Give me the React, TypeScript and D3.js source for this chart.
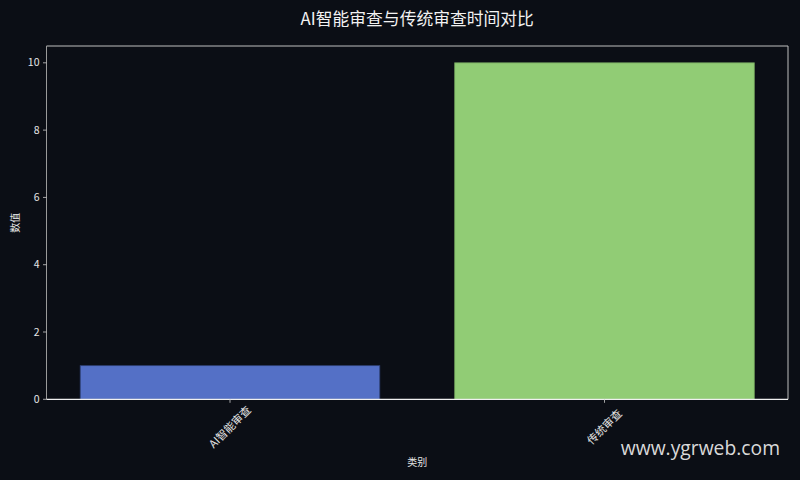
import React, { useEffect, useRef } from "react";
import * as d3 from "d3";

const categories = ["AI智能审查", "传统审查"];
const values = [1, 10];
const barColors = ["#5470c6", "#91cc75"];
const edgeColors = ["#2e3f73", "#6f9e5a"];
const yTicks = [0, 2, 4, 6, 8, 10];
const title = "AI智能审查与传统审查时间对比";
const xLabel = "类别";
const yLabel = "数值";
const watermark = "www.ygrweb.com";

const W = 800;
const H = 480;
const BG = "#0b0e15";
const M = { left: 46.5, right: 788, top: 46, bottom: 399.3 };
const FONT = "'Noto Sans CJK SC', 'Noto Sans', sans-serif";

export default function App() {
  const ref = useRef<SVGSVGElement>(null);

  useEffect(() => {
    const svg = d3.select(ref.current);
    svg.selectAll("*").remove();

    svg.append("rect").attr("width", W).attr("height", H).attr("fill", BG);

    const x = d3
      .scaleBand<string>()
      .domain(categories)
      .range([M.left, M.right])
      .paddingInner(0.2)
      .paddingOuter(0.09);
    const y = d3.scaleLinear().domain([0, 10.5]).range([M.bottom, M.top]);

    // bars
    svg
      .append("g")
      .selectAll("rect")
      .data(values)
      .join("rect")
      .attr("x", (_, i) => x(categories[i])!)
      .attr("y", (d) => y(d))
      .attr("width", x.bandwidth())
      .attr("height", (d) => y(0) - y(d))
      .attr("fill", (_, i) => barColors[i])
      .attr("stroke", (_, i) => edgeColors[i])
      .attr("stroke-width", 0.8);

    // spines
    const sp = svg.append("g");
    sp.append("line").attr("x1", M.left).attr("x2", M.right).attr("y1", M.top).attr("y2", M.top).attr("stroke", "#bfbfbf").attr("stroke-width", 1);
    sp.append("line").attr("x1", M.right).attr("x2", M.right).attr("y1", M.top).attr("y2", M.bottom).attr("stroke", "#bfbfbf").attr("stroke-width", 1);
    sp.append("line").attr("x1", M.left).attr("x2", M.left).attr("y1", M.top).attr("y2", M.bottom).attr("stroke", "#9a9a9a").attr("stroke-width", 1);
    sp.append("line").attr("x1", M.left).attr("x2", M.right).attr("y1", M.bottom).attr("y2", M.bottom).attr("stroke", "#f0f0f0").attr("stroke-width", 1.2);

    // y ticks
    const yg = svg.append("g");
    yTicks.forEach((t) => {
      yg.append("line")
        .attr("x1", M.left - 3.5)
        .attr("x2", M.left)
        .attr("y1", y(t))
        .attr("y2", y(t))
        .attr("stroke", "#cccccc")
        .attr("stroke-width", 0.8);
      yg.append("text")
        .attr("x", M.left - 7)
        .attr("y", y(t))
        .attr("dy", "0.35em")
        .attr("text-anchor", "end")
        .attr("fill", "#e6e6e6")
        .attr("font-family", FONT)
        .attr("font-size", 10.5)
        .text(String(t));
    });

    // x ticks
    const xg = svg.append("g");
    categories.forEach((c) => {
      const cx = x(c)! + x.bandwidth() / 2;
      xg.append("line")
        .attr("x1", cx)
        .attr("x2", cx)
        .attr("y1", M.bottom)
        .attr("y2", M.bottom + 3.5)
        .attr("stroke", "#cccccc")
        .attr("stroke-width", 0.8);
      xg.append("text")
        .attr("transform", `translate(${cx},${427}) rotate(-45)`)
        .attr("text-anchor", "middle")
        .attr("dy", "0.35em")
        .attr("fill", "#e6e6e6")
        .attr("font-family", FONT)
        .attr("font-size", 11)
        .text(c);
    });

    // axis labels
    svg.append("text")
      .attr("x", (M.left + M.right) / 2)
      .attr("y", 462)
      .attr("dy", "0.35em")
      .attr("text-anchor", "middle")
      .attr("fill", "#e6e6e6")
      .attr("font-family", FONT)
      .attr("font-size", 10)
      .text(xLabel);
    svg.append("text")
      .attr("transform", `translate(15,${(M.top + M.bottom) / 2}) rotate(-90)`)
      .attr("dy", "0.35em")
      .attr("text-anchor", "middle")
      .attr("fill", "#e6e6e6")
      .attr("font-family", FONT)
      .attr("font-size", 10)
      .text(yLabel);

    // title
    svg.append("text")
      .attr("x", (M.left + M.right) / 2)
      .attr("y", 19)
      .attr("dy", "0.35em")
      .attr("text-anchor", "middle")
      .attr("fill", "#f2f2f2")
      .attr("font-family", FONT)
      .attr("font-size", 16.8)
      .text(title);

    // watermark
    svg.append("text")
      .attr("x", 780)
      .attr("y", 455)
      .attr("text-anchor", "end")
      .attr("fill", "#d9d9d9")
      .attr("font-family", "'Open Sans', 'Noto Sans', sans-serif")
      .attr("font-size", 19.3)
      .text(watermark);
  }, []);

  return (
    <svg
      ref={ref}
      width={W}
      height={H}
      style={{ display: "block", position: "absolute", left: 0, top: 0 }}
    />
  );
}
